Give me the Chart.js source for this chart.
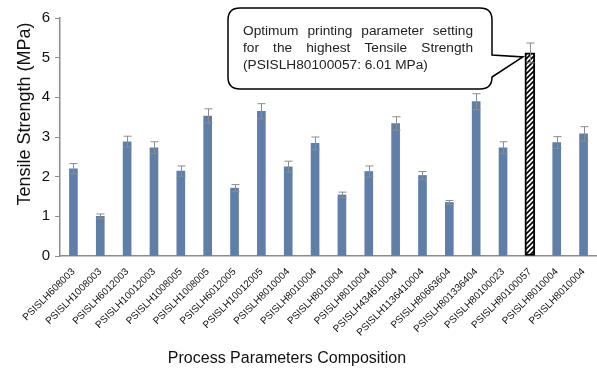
<!DOCTYPE html>
<html>
<head>
<meta charset="utf-8">
<script src="https://cdn.jsdelivr.net/npm/chart.js@4.4.1/dist/chart.umd.min.js"></script>
<style>
  html, body { margin: 0; padding: 0; background: #fff; }
  #wrap { width: 597px; height: 368px; position: relative; }
</style>
</head>
<body>
<div id="wrap"><canvas id="myChart"></canvas></div>
<script>
// data
var categories = [
    'PSISLH608003', 'PSISLH1008003', 'PSISLH6012003', 'PSISLH10012003',
    'PSISLH1008005', 'PSISLH1008005', 'PSISLH6012005', 'PSISLH10012005',
    'PSISLH8010004', 'PSISLH8010004', 'PSISLH8010004', 'PSISLH8010004',
    'PSISLH434610004', 'PSISLH1136410004', 'PSISLH80663604', 'PSISLH801336404',
    'PSISLH80100023', 'PSISLH80100057', 'PSISLH8010004', 'PSISLH8010004'
];
var strength = [2.20, 1.00, 2.88, 2.73, 2.14, 3.53, 1.71, 3.65, 2.25, 2.84,
                1.54, 2.13, 3.34, 2.03, 1.35, 3.89, 2.73, 5.12, 2.86, 3.08];
var stdev = [0.13, 0.06, 0.14, 0.15, 0.13, 0.18, 0.09, 0.19, 0.14, 0.16,
             0.07, 0.14, 0.17, 0.10, 0.05, 0.20, 0.15, 0.25, 0.15, 0.18];
var yMin = 0, yMax = 6, yStep = 1;
var bestIndex = 17;
var calloutLines = [
    'Optimum printing parameter setting',
    'for the highest Tensile Strength',
    '(PSISLH80100057: 6.01 MPa)'
];
var yTitle = 'Tensile Strength (MPa)';
var xTitle = 'Process Parameters Composition';

var FONT = '"Liberation Sans", Arial, sans-serif';

// normal bars and the highlighted one go into two overlapping datasets
var normalData = strength.map(function(v, i) { return i === bestIndex ? null : v; });
var bestData = strength.map(function(v, i) { return i === bestIndex ? v : null; });

function makeHatch() {
    var c = document.createElement('canvas');
    c.width = 5; c.height = 5;
    var g = c.getContext('2d');
    g.fillStyle = '#fff';
    g.fillRect(0, 0, 5, 5);
    g.strokeStyle = '#000';
    g.lineWidth = 1.7;
    g.beginPath();
    g.moveTo(-1, 6); g.lineTo(6, -1);
    g.moveTo(-1, 1); g.lineTo(1, -1);
    g.moveTo(4, 6); g.lineTo(6, 4);
    g.stroke();
    return g.createPattern(c, 'repeat');
}

var errorBars = {
    id: 'errorBars',
    afterDatasetsDraw: function(chart) {
        var x = chart.scales.x, y = chart.scales.y, ctx = chart.ctx;
        ctx.save();
        ctx.strokeStyle = '#8c8c8c';
        ctx.lineWidth = 1;
        for (var i = 0; i < strength.length; i++) {
            var px = Math.round(x.getPixelForValue(i)) + 0.5;
            var top = y.getPixelForValue(strength[i] + stdev[i]);
            var bot = y.getPixelForValue(strength[i] - stdev[i]);
            ctx.beginPath();
            ctx.moveTo(px, top); ctx.lineTo(px, bot);
            ctx.moveTo(px - 4, top); ctx.lineTo(px + 4, top);
            ctx.moveTo(px - 4, bot); ctx.lineTo(px + 4, bot);
            ctx.stroke();
        }
        ctx.restore();
    }
};

function justifyLine(ctx, text, x0, width, baseY, justify) {
    var words = text.split(' ');
    if (!justify || words.length < 2) { ctx.fillText(text, x0, baseY); return; }
    var total = 0;
    words.forEach(function(w) { total += ctx.measureText(w).width; });
    var gap = (width - total) / (words.length - 1);
    var cx = x0;
    words.forEach(function(w) {
        ctx.fillText(w, cx, baseY);
        cx += ctx.measureText(w).width + gap;
    });
}

var annotations = {
    id: 'annotations',
    afterDraw: function(chart) {
        var ctx = chart.ctx;
        var x = chart.scales.x, y = chart.scales.y;
        ctx.save();

        // axis titles
        ctx.fillStyle = '#111';
        ctx.textAlign = 'center';
        ctx.textBaseline = 'middle';
        ctx.font = '16px ' + FONT;
        ctx.fillText(xTitle, 287, 359);
        ctx.save();
        ctx.translate(25.5, 114);
        ctx.rotate(-Math.PI / 2);
        ctx.font = '18px ' + FONT;
        ctx.fillText(yTitle, 0, 0);
        ctx.restore();

        // callout bubble pointing at the best bar
        var L = 228, T = 8, R = 492, B = 89, r = 12;
        var tipX = x.getPixelForValue(bestIndex) - 7;
        var tipY = y.getPixelForValue(strength[bestIndex]) + 4;
        ctx.beginPath();
        ctx.moveTo(L + r, T);
        ctx.lineTo(R - r, T);
        ctx.quadraticCurveTo(R, T, R, T + r);
        ctx.lineTo(R, 55);
        ctx.lineTo(tipX, tipY);
        ctx.lineTo(R, 77);
        ctx.lineTo(R, B - r);
        ctx.quadraticCurveTo(R, B, R - r, B);
        ctx.lineTo(L + r, B);
        ctx.quadraticCurveTo(L, B, L, B - r);
        ctx.lineTo(L, T + r);
        ctx.quadraticCurveTo(L, T, L + r, T);
        ctx.closePath();
        ctx.fillStyle = '#fff';
        ctx.fill();
        ctx.strokeStyle = '#000';
        ctx.lineWidth = 1.5;
        ctx.stroke();

        ctx.fillStyle = '#222';
        ctx.font = '13.7px ' + FONT;
        ctx.textAlign = 'left';
        ctx.textBaseline = 'middle';
        justifyLine(ctx, calloutLines[0], 243, 230, 31, true);
        justifyLine(ctx, calloutLines[1], 243, 230, 48, true);
        justifyLine(ctx, calloutLines[2], 243, 230, 65, false);
        ctx.restore();
    }
};

var ctx = document.getElementById('myChart').getContext('2d');

window.myChart = new Chart(ctx, {
    type: 'bar',
    data: {
        labels: categories,
        datasets: [{
            label: 'Tensile Strength',
            data: normalData,
            backgroundColor: '#5f7ea8',
            borderWidth: 0,
            barThickness: 8
        }, {
            label: 'Best setting',
            data: bestData,
            backgroundColor: makeHatch(),
            borderColor: '#000',
            borderWidth: 2,
            borderSkipped: false,
            barThickness: 10
        }]
    },
    options: {
        responsive: true,
        maintainAspectRatio: false,
        animation: false,
        layout: { padding: { top: 18, left: 0, right: 0, bottom: 0 } },
        plugins: {
            legend: { display: false },
            tooltip: { enabled: false }
        },
        datasets: { bar: { grouped: false } },
        scales: {
            x: {
                grid: { display: false },
                border: { color: '#8c8c8c', width: 1.5 },
                ticks: {
                    color: '#111',
                    font: { family: FONT, size: 10 },
                    minRotation: 45,
                    maxRotation: 45,
                    autoSkip: false,
                    padding: 2
                },
                afterFit: function(scale) { scale.height = 112; }
            },
            y: {
                min: yMin,
                max: yMax,
                grid: { display: true, drawOnChartArea: false, tickLength: 5, color: '#8c8c8c' },
                border: { color: '#8c8c8c', width: 1.5 },
                ticks: {
                    stepSize: yStep,
                    color: '#111',
                    font: { family: FONT, size: 15 },
                    padding: 5
                },
                afterFit: function(scale) { scale.width = 60; }
            }
        }
    },
    plugins: [errorBars, annotations]
});
</script>
</body>
</html>
